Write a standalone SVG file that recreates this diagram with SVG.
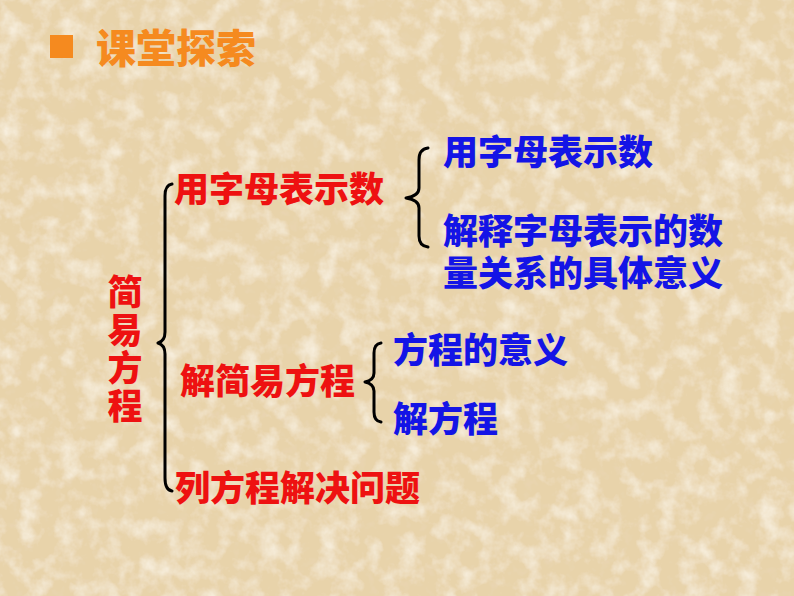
<svg xmlns="http://www.w3.org/2000/svg" width="794" height="596" viewBox="0 0 794 596">
  <defs>
    <filter id="paper" x="0" y="0" width="100%" height="100%">
      <feTurbulence type="fractalNoise" baseFrequency="0.05" numOctaves="4" seed="3" result="n"/>
      <feColorMatrix in="n" type="matrix" values="0 0 0 0 0.97  0 0 0 0 0.92  0 0 0 0 0.82  1.6 0 0 0 -0.7" result="light"/>
      <feTurbulence type="fractalNoise" baseFrequency="0.09" numOctaves="3" seed="11" result="m"/>
      <feColorMatrix in="m" type="matrix" values="0 0 0 0 0.82  0 0 0 0 0.68  0 0 0 0 0.50  1.2 0 0 0 -0.7" result="dark"/>
      <feMerge>
        <feMergeNode in="SourceGraphic"/>
        <feMergeNode in="dark"/>
        <feMergeNode in="light"/>
      </feMerge>
    </filter>
    <style>
      text { font-family: "Noto Sans CJK SC", "Microsoft YaHei", sans-serif; font-weight: 900; }
      .title { fill: #F58A1F; font-size: 40px; }
      .red { fill: #EE1111; font-size: 35px; }
      .blue { fill: #1414E6; font-size: 35px; }
      .brace { fill: none; stroke: #000; stroke-width: 3; stroke-linecap: round; stroke-linejoin: round; }
    </style>
  </defs>
  <rect width="794" height="596" fill="#E8D3AA" filter="url(#paper)"/>

  <g id="title">
    <rect x="50" y="35" width="23" height="23" fill="#F58A1F"/>
    <text class="title" x="96" y="63">课堂探索</text>
  </g>

  <g id="connectors">
    <path class="brace" d="M172 184 Q165 185 165 196 L165 332 Q165 341 158 343 Q165 345 165 354 L165 478 Q165 490 172 491"/>
    <path class="brace" d="M428 148 Q419 149 419 160 L419 188 Q419 196 406 198 Q419 200 419 208 L419 236 Q419 246 428 247"/>
    <path class="brace" d="M381 343 Q374 344 374 353 L374 373 Q374 380 365 382 Q374 384 374 391 L374 412 Q374 421 381 422"/>
  </g>

  <g id="root">
    <text class="red" x="125" y="274" style="writing-mode: vertical-rl; letter-spacing: 3px;">简易方程</text>
  </g>

  <g id="n1"><text class="red" x="174" y="202">用字母表示数</text></g>
  <g id="n2"><text class="red" x="180" y="394">解简易方程</text></g>
  <g id="n3"><text class="red" x="175" y="501">列方程解决问题</text></g>

  <g id="n1a"><text class="blue" x="443" y="165">用字母表示数</text></g>
  <g id="n1b">
    <text class="blue" x="443" y="244">解释字母表示的数<tspan x="443" dy="42">量关系的具体意义</tspan></text>
  </g>
  <g id="n2a"><text class="blue" x="393" y="363">方程的意义</text></g>
  <g id="n2b"><text class="blue" x="393" y="432">解方程</text></g>
</svg>
